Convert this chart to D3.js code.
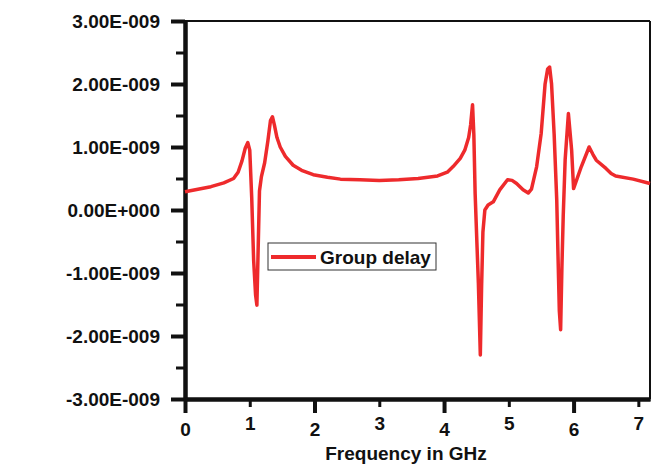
<!DOCTYPE html>
<html>
<head>
<meta charset="utf-8">
<title>Group delay</title>
<script src="https://d3js.org/d3.v7.min.js"></script>
<style>
  body { margin: 0; background: #fff; }
  svg text { font-family: Arial, 'Liberation Sans', sans-serif; font-weight: bold; fill: #111; }
</style>
</head>
<body>
<svg id="chart" width="653" height="466"></svg>
<script>
// frequency in GHz, group delay in ns (x 1e-9 s)
const freqGHz = [0, 0.2, 0.4, 0.6, 0.75, 0.82, 0.88, 0.93, 0.97, 1.0, 1.03, 1.06, 1.09, 1.11, 1.13, 1.15, 1.18, 1.23, 1.28, 1.32, 1.35, 1.38, 1.42, 1.47, 1.55, 1.67, 1.8, 1.98, 2.2, 2.4, 2.7, 3.0, 3.3, 3.6, 3.9, 4.05, 4.14, 4.25, 4.32, 4.38, 4.41, 4.44, 4.46, 4.48, 4.51, 4.53, 4.56, 4.58, 4.6, 4.63, 4.68, 4.76, 4.86, 4.98, 5.05, 5.12, 5.22, 5.3, 5.35, 5.43, 5.5, 5.56, 5.6, 5.63, 5.66, 5.7, 5.74, 5.76, 5.78, 5.8, 5.82, 5.84, 5.87, 5.92, 5.97, 6.0, 6.12, 6.24, 6.3, 6.35, 6.5, 6.58, 6.65, 6.92, 7.18];
const delayNs = [0.29, 0.33, 0.37, 0.43, 0.5, 0.6, 0.78, 0.98, 1.07, 0.95, 0.2, -0.8, -1.35, -1.51, -0.6, 0.3, 0.53, 0.75, 1.1, 1.42, 1.48, 1.35, 1.15, 1.0, 0.85, 0.71, 0.63, 0.56, 0.52, 0.49, 0.48, 0.47, 0.48, 0.5, 0.54, 0.6, 0.69, 0.82, 0.95, 1.15, 1.35, 1.67, 1.2, 0.26, -0.6, -1.16, -2.3, -1.2, -0.35, 0.0, 0.08, 0.13, 0.32, 0.48, 0.47, 0.42, 0.32, 0.27, 0.33, 0.69, 1.22, 2.0, 2.24, 2.27, 2.0, 1.2, 0.16, -0.74, -1.6, -1.9, -0.9, -0.1, 0.8, 1.53, 0.95, 0.34, 0.69, 1.0, 0.88, 0.79, 0.66, 0.58, 0.54, 0.49, 0.42];

const xMajorTicks = [0, 2, 4, 6];
const xMinorTicks = [1, 3, 5, 7];
const yMajorTicks = [-3e-9, -2e-9, -1e-9, 0, 1e-9, 2e-9, 3e-9];
const yMinorTicks = [-2.5e-9, -1.5e-9, -0.5e-9, 0.5e-9, 1.5e-9, 2.5e-9];
const seriesName = 'Group delay';
const xTitle = 'Frequency in GHz';

const plotL = 185, plotR = 650, plotT = 21, plotB = 399;
const red = '#ee2a2c';

const svg = d3.select('#chart');
const x = d3.scaleLinear().domain([0, 7.18]).range([plotL, plotR]);
const y = d3.scaleLinear().domain([-3e-9, 3e-9]).range([plotB, plotT]);

// Origin style scientific label, e.g. 2.00E-009
function sci(v) {
  if (v === 0) return '0.00E+000';
  const e = Math.floor(Math.log10(Math.abs(v)) + 1e-9);
  const m = v / Math.pow(10, e);
  const sign = e < 0 ? '-' : '+';
  return m.toFixed(2) + 'E' + sign + String(Math.abs(e)).padStart(3, '0');
}

// frame: thin top and right lines
svg.append('line').attr('x1', plotL).attr('x2', plotR).attr('y1', plotT).attr('y2', plotT)
  .attr('stroke', '#111').attr('stroke-width', 2);
svg.append('line').attr('x1', plotR).attr('x2', plotR).attr('y1', plotT).attr('y2', plotB)
  .attr('stroke', '#111').attr('stroke-width', 2);

function styleAxis(g, w) {
  g.selectAll('.domain').attr('stroke', '#111').attr('stroke-width', 4);
  g.selectAll('.tick line').attr('stroke', '#111').attr('stroke-width', w);
  g.selectAll('.tick text').style('font-size', '19px');
}

// y axis
svg.append('g').attr('transform', `translate(${plotL},0)`)
  .call(d3.axisLeft(y).tickValues(yMinorTicks).tickSize(9).tickSizeOuter(0).tickFormat(''))
  .call(g => styleAxis(g, 3));
svg.append('g').attr('transform', `translate(${plotL},0)`)
  .call(d3.axisLeft(y).tickValues(yMajorTicks).tickSize(14).tickSizeOuter(0).tickPadding(11).tickFormat(sci))
  .call(g => styleAxis(g, 4));

// x axis
svg.append('g').attr('transform', `translate(0,${plotB})`)
  .call(d3.axisBottom(x).tickValues(xMinorTicks).tickSize(8).tickSizeOuter(0).tickPadding(10).tickFormat(d3.format('d')))
  .call(g => styleAxis(g, 3));
svg.append('g').attr('transform', `translate(0,${plotB})`)
  .call(d3.axisBottom(x).tickValues(xMajorTicks).tickSize(14).tickSizeOuter(0).tickPadding(10).tickFormat(d3.format('d')))
  .call(g => styleAxis(g, 4));

svg.append('text').attr('x', 406).attr('y', 460).attr('text-anchor', 'middle')
  .style('font-size', '19px').text(xTitle);

// series
const pts = freqGHz.map((f, i) => [f, delayNs[i] * 1e-9]);
svg.append('path').datum(pts)
  .attr('fill', 'none').attr('stroke', red).attr('stroke-width', 3.5)
  .attr('stroke-linejoin', 'round')
  .attr('d', d3.line().x(d => x(d[0])).y(d => y(d[1])));

// legend
const lg = svg.append('g').attr('transform', 'translate(268,243)');
lg.append('rect').attr('width', 168).attr('height', 27)
  .attr('fill', '#fff').attr('stroke', '#333').attr('stroke-width', 1);
lg.append('line').attr('x1', 3).attr('x2', 48).attr('y1', 14).attr('y2', 14)
  .attr('stroke', red).attr('stroke-width', 4);
lg.append('text').attr('x', 52).attr('y', 21).style('font-size', '19px').text(seriesName);
</script>
</body>
</html>
